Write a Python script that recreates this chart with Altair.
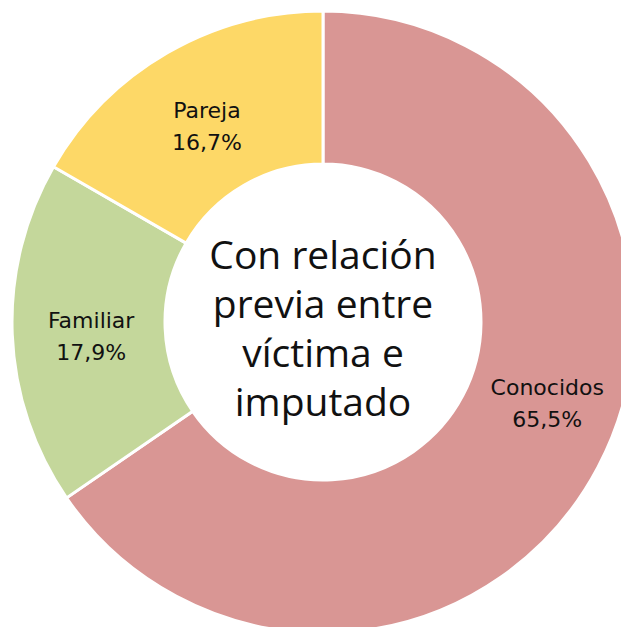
import altair as alt
import pandas as pd

categories = ["Conocidos", "Familiar", "Pareja"]
values = [65.5, 17.9, 16.7]
value_labels = ["65,5%", "17,9%", "16,7%"]
colors = ["#D99694", "#C4D79B", "#FDD867"]
center_lines = ["Con relación", "previa entre", "víctima e", "imputado"]

df = pd.DataFrame({
    "cat": categories,
    "value": values,
    "order": list(range(len(categories))),
    "label": [f"{c}\n{v}" for c, v in zip(categories, value_labels)],
})

cx, cy = 315, 314

base = alt.Chart(df).encode(
    theta=alt.Theta("value:Q", stack=True),
    order=alt.Order("order:Q"),
    x=alt.value(cx), y=alt.value(cy),
)

arcs = base.mark_arc(outerRadius=311, innerRadius=158, stroke="white", strokeWidth=3).encode(
    color=alt.Color("cat:N", scale=alt.Scale(domain=categories, range=colors), legend=None),
)

text_style = dict(radius=232, fontSize=22, font="DejaVu Sans", lineBreak="\n", lineHeight=32,
                  color="#111111", align="center", baseline="middle")

labels_small = base.mark_text(dy=-10, **text_style).encode(
    text="label:N",
    opacity=alt.condition(alt.datum.cat == "Conocidos", alt.value(0), alt.value(1)),
)
labels_big = base.mark_text(dx=19, dy=-42, **text_style).encode(
    text="label:N",
    opacity=alt.condition(alt.datum.cat == "Conocidos", alt.value(1), alt.value(0)),
)

center_df = pd.DataFrame({"t": ["\n".join(center_lines)]})
center = alt.Chart(center_df).mark_text(
    fontSize=39, font="Open Sans", lineBreak="\n", lineHeight=49,
    color="#111111", align="center", baseline="middle", dy=-65,
).encode(text="t:N", x=alt.value(cx), y=alt.value(cy))

chart = alt.layer(arcs, labels_small, labels_big, center).properties(
    width=613, height=619,
    autosize=alt.AutoSizeParams(type="none"),
    padding=0,
).configure_view(stroke=None)

chart.save("out.html", embed_options={"renderer": "svg", "actions": False})
